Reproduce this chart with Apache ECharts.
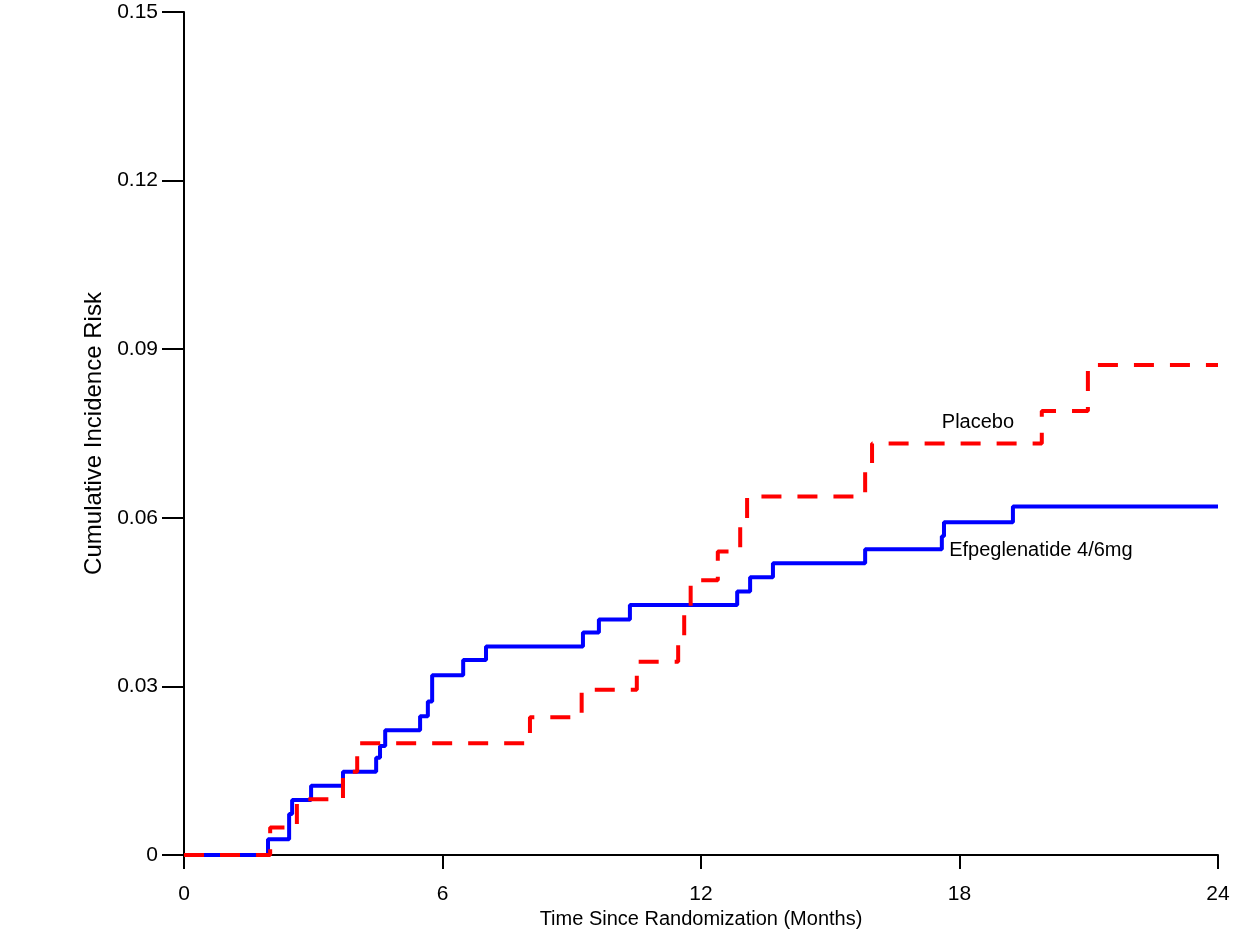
<!DOCTYPE html>
<html>
<head>
<meta charset="utf-8">
<script src="https://cdn.jsdelivr.net/npm/echarts@6/dist/echarts.min.js"></script>
<style>
  html, body { margin: 0; padding: 0; background: #fff; }
  #app { width: 1241px; height: 929px; }
</style>
</head>
<body>
<div id="app"></div>
<script>
    'use strict';

    var FONT = "'Liberation Sans', Arial, sans-serif";

    // step points: [month, cumulative risk]
    var efpeglenatide = [
        [0, 0], [1.95, 0.0028], [2.44, 0.0073], [2.51, 0.0098], [2.95, 0.0123],
        [3.69, 0.0148], [4.46, 0.0173], [4.55, 0.0194], [4.67, 0.0222],
        [5.48, 0.0247], [5.66, 0.0273], [5.76, 0.032], [6.48, 0.0347],
        [7.01, 0.0371], [9.26, 0.0396], [9.63, 0.0419], [10.35, 0.0445],
        [12.84, 0.0469], [13.14, 0.0494], [13.67, 0.0519], [15.81, 0.0544],
        [17.59, 0.0567], [17.64, 0.0592], [19.24, 0.062], [24, 0.062]
    ];
    var placebo = [
        [0, 0], [2.0, 0.0049], [2.62, 0.0099], [3.69, 0.0148], [4.02, 0.0199],
        [8.03, 0.0245], [9.23, 0.0294], [10.51, 0.0344], [11.47, 0.0388],
        [11.61, 0.0442], [11.76, 0.0489], [12.39, 0.054], [12.91, 0.059],
        [13.07, 0.0638], [15.81, 0.0695], [15.97, 0.0732], [19.91, 0.079],
        [20.98, 0.0872], [24, 0.0872]
    ];
    var xTicks = [0, 6, 12, 18, 24];
    var yTicks = [0, 0.03, 0.06, 0.09, 0.12, 0.15];
    var labelPlacebo = [17.59, 0.0769];
    var labelEfpeg = [17.76, 0.0541];

    var axisLine = {lineStyle: {color: '#000', width: 2}};

    var option = {
        animation: false,
        grid: {left: 184, right: 23, top: 12, bottom: 74, outerBoundsMode: 'none', containLabel: false},
        xAxis: {
            type: 'value',
            min: xTicks[0],
            max: xTicks[xTicks.length - 1],
            interval: 6,
            name: 'Time Since Randomization (Months)',
            nameLocation: 'middle',
            nameGap: 51,
            nameTextStyle: {color: '#000', fontSize: 20, fontFamily: FONT},
            axisLine: axisLine,
            axisTick: {show: true, length: 14, lineStyle: {color: '#000', width: 2}},
            axisLabel: {color: '#000', fontSize: 21, fontFamily: FONT, margin: 29},
            splitLine: {show: false}
        },
        yAxis: {
            type: 'value',
            min: yTicks[0],
            max: yTicks[yTicks.length - 1],
            interval: 0.03,
            name: 'Cumulative Incidence Risk',
            nameLocation: 'middle',
            nameGap: 74,
            nameTextStyle: {color: '#000', fontSize: 24, fontFamily: FONT},
            axisLine: Object.assign({show: true}, axisLine),
            axisTick: {show: true, length: 22, lineStyle: {color: '#000', width: 2}},
            axisLabel: {
                color: '#000', fontSize: 21, fontFamily: FONT, margin: 26,
                formatter: function (v) { return v === 0 ? '0' : v.toFixed(2); }
            },
            splitLine: {show: false}
        },
        series: [
            {
                name: 'Efpeglenatide 4/6mg',
                type: 'line',
                step: 'end',
                showSymbol: false,
                data: efpeglenatide,
                lineStyle: {color: '#0000ff', width: 4},
                markPoint: {
                    symbol: 'circle',
                    symbolSize: 0,
                    data: [{coord: labelEfpeg, value: 'Efpeglenatide 4/6mg'}],
                    label: {
                        show: true, position: 'right', distance: 0,
                        formatter: '{c}', color: '#000', fontSize: 20, fontFamily: FONT
                    }
                }
            },
            {
                name: 'Placebo',
                type: 'line',
                step: 'end',
                showSymbol: false,
                data: placebo,
                lineStyle: {color: '#ff0000', width: 4, type: [20, 16]},
                markPoint: {
                    symbol: 'circle',
                    symbolSize: 0,
                    data: [{coord: labelPlacebo, value: 'Placebo'}],
                    label: {
                        show: true, position: 'right', distance: 0,
                        formatter: '{c}', color: '#000', fontSize: 20, fontFamily: FONT
                    }
                }
            }
        ]
    };

    var myChart = echarts.init(document.getElementById('app'));
    myChart.setOption(option);
</script>
</body>
</html>
